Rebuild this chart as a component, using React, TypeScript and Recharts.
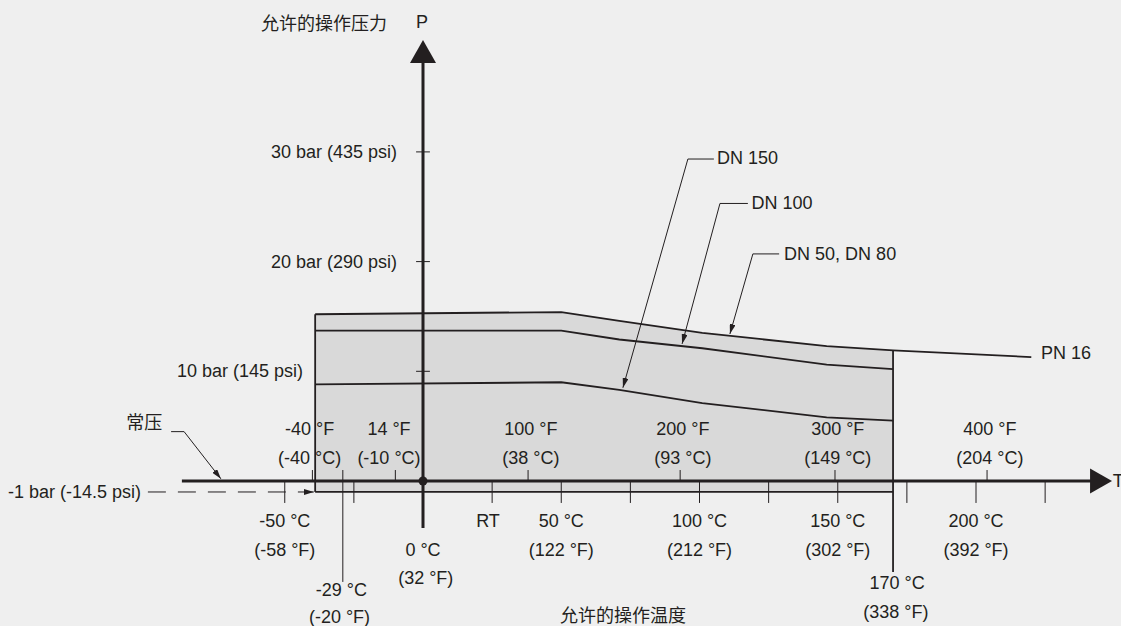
import React from 'react'
import { ComposedChart, Area, Line, XAxis, YAxis, ReferenceLine, ReferenceDot } from 'recharts'

const INK = '#231f20'
const BG = '#efefef'
const FILL = '#d9d9d9'
const LATIN = '"Liberation Sans", Arial, sans-serif'
const CJK = '"Noto Sans CJK SC", sans-serif'

// curves: temperature (°C) -> allowed pressure (bar)
const TEMPS_TOP = [-39, 50, 71, 101, 146, 170, 220]
const P_TOP = [15.2, 15.4, 14.6, 13.5, 12.3, 11.9, 11.3] // DN 50, DN 80 / PN 16
const TEMPS_DN = [-39, 50, 71, 101, 146, 170]
const P_DN100 = [13.7, 13.7, 12.9, 12.1, 10.6, 10.2]
const P_DN150 = [8.8, 9.0, 8.3, 7.1, 5.8, 5.5]
const P_VACUUM = -1
const T_MIN = -39
const T_MAX = 170

// axis ticks
const BAR_TICKS = [10, 20, 30]
const BAR_LABELS = ['10 bar (145 psi)', '20 bar (290 psi)', '30 bar (435 psi)']
const BAR_LABEL_AT = [-43.4, -9.4, -9.4]
const C_TICKS = [-50, -25, 0, 25, 50, 75, 100, 125, 150, 175, 200, 225]
const C_LABEL_AT = [-50, 50, 100, 150, 200]
const C_LABELS = ['-50 °C', '50 °C', '100 °C', '150 °C', '200 °C']
const C_LABELS_F = ['(-58 °F)', '(122 °F)', '(212 °F)', '(302 °F)', '(392 °F)']
const F_TICKS = [-40, -10, 38, 93, 149, 204]
const F_LABEL_AT = [-41, -12.3, 39, 94, 150, 205]
const F_LABELS = ['-40 °F', '14 °F', '100 °F', '200 °F', '300 °F', '400 °F']
const F_LABELS_C = ['(-40 °C)', '(-10 °C)', '(38 °C)', '(93 °C)', '(149 °C)', '(204 °C)']

const X_DOMAIN = [-152, 250]
const Y_DOMAIN = [-13, 43]

const topData = TEMPS_TOP.map((t, i) => ({ t, p: P_TOP[i] }))
const regionData = TEMPS_TOP.filter(t => t <= T_MAX).map((t, i) => ({ t, band: [P_VACUUM, P_TOP[i]] }))
const dn100Data = TEMPS_DN.map((t, i) => ({ t, p: P_DN100[i] }))
const dn150Data = TEMPS_DN.map((t, i) => ({ t, p: P_DN150[i] }))

type Pt = { x: number; y: number }

function seg(key: string, a: Pt, b: Pt, width = 1, extra: any = {}) {
  return (
    <ReferenceLine key={key} segment={[a, b]} stroke={INK} strokeWidth={width} ifOverflow="visible" {...extra} />
  )
}

function txt(key: string, x: number, y: number, value: string, anchor = 'middle', font = LATIN) {
  return (
    <ReferenceDot
      key={key}
      x={x}
      y={y}
      r={1}
      ifOverflow="visible"
      shape={(p: any) => (
        <text x={p.cx} y={p.cy} textAnchor={anchor} dominantBaseline="central"
          fontSize={18} fontFamily={font} fill={INK}>{value}</text>
      )}
    />
  )
}

export default function App() {
  return (
    <div style={{ position: 'absolute', left: 0, top: 0, width: 1121, height: 626, background: BG }}>
      <ComposedChart width={1121} height={626} margin={{ top: 9.29, right: 6.75, bottom: 2.39, left: 2.72 }}>
        <defs>
          <marker id="ah" markerWidth="10" markerHeight="6" refX="10" refY="3" orient="auto" markerUnits="userSpaceOnUse">
            <path d="M0,0 L10,3 L0,6 z" fill={INK} />
          </marker>
        </defs>
        <XAxis type="number" dataKey="t" domain={X_DOMAIN} hide allowDataOverflow />
        <YAxis type="number" domain={Y_DOMAIN} hide allowDataOverflow />

        <Area data={regionData} dataKey="band" type="linear" fill={FILL} fillOpacity={1} stroke="none" isAnimationActive={false} />

        {/* region outline */}
        {seg('rl', { x: T_MIN, y: P_VACUUM }, { x: T_MIN, y: P_TOP[0] }, 1.8)}
        {seg('rb', { x: T_MIN, y: P_VACUUM }, { x: T_MAX, y: P_VACUUM }, 1.8)}
        {seg('rr', { x: T_MAX, y: 11.9 }, { x: T_MAX, y: -8.3 }, 1.8)}

        <Line data={topData} dataKey="p" type="linear" stroke={INK} strokeWidth={1.8} dot={false} isAnimationActive={false} />
        <Line data={dn100Data} dataKey="p" type="linear" stroke={INK} strokeWidth={1.8} dot={false} isAnimationActive={false} />
        <Line data={dn150Data} dataKey="p" type="linear" stroke={INK} strokeWidth={1.8} dot={false} isAnimationActive={false} />

        {/* ticks */}
        {C_TICKS.map(t => seg('ct' + t, { x: t, y: 0 }, { x: t, y: -2 }))}
        {F_TICKS.map(t => seg('ft' + t, { x: t, y: 1 }, { x: t, y: 0 }))}
        {BAR_TICKS.map(b => seg('bt' + b, { x: -2.5, y: b }, { x: 2.5, y: b }))}
        {seg('m29', { x: -29, y: 1 }, { x: -29, y: -9.2 })}

        {/* axes */}
        {seg('xa', { x: -87.2, y: 0 }, { x: 242, y: 0 }, 3)}
        {seg('ya', { x: 0, y: -4.28 }, { x: 0, y: 38.5 }, 3)}
        <ReferenceDot x={249.2} y={0} r={1} ifOverflow="visible"
          shape={(p: any) => <polygon points={`${p.cx},${p.cy} ${p.cx - 22},${p.cy - 12.5} ${p.cx - 22},${p.cy + 12.5}`} fill={INK} />} />
        <ReferenceDot x={0} y={40.2} r={1} ifOverflow="visible"
          shape={(p: any) => <polygon points={`${p.cx},${p.cy} ${p.cx - 13},${p.cy + 23} ${p.cx + 13},${p.cy + 23}`} fill={INK} />} />
        <ReferenceDot x={0} y={0} r={4.5} fill={INK} stroke="none" ifOverflow="visible" />

        {/* vacuum line */}
        {seg('vac', { x: -99.5, y: P_VACUUM }, { x: T_MIN - 0.5, y: P_VACUUM }, 1, { strokeDasharray: '18 12', markerEnd: 'url(#ah)' })}

        {/* leaders */}
        {seg('l150a', { x: 105.2, y: 29.35 }, { x: 95.8, y: 29.35 })}
        {seg('l150b', { x: 95.8, y: 29.35 }, { x: 72.3, y: 8.5 }, 1, { markerEnd: 'url(#ah)' })}
        {seg('l100a', { x: 117.5, y: 25.3 }, { x: 107.4, y: 25.3 })}
        {seg('l100b', { x: 107.4, y: 25.3 }, { x: 93.7, y: 12.5 }, 1, { markerEnd: 'url(#ah)' })}
        {seg('l50a', { x: 128.8, y: 20.7 }, { x: 119.3, y: 20.7 })}
        {seg('l50b', { x: 119.3, y: 20.7 }, { x: 111.0, y: 13.4 }, 1, { markerEnd: 'url(#ah)' })}
        {seg('lna', { x: -91.1, y: 4.5 }, { x: -86.4, y: 4.5 })}
        {seg('lnb', { x: -86.4, y: 4.5 }, { x: -73.1, y: 0.2 }, 1, { markerEnd: 'url(#ah)' })}

        {/* labels */}
        {BAR_TICKS.map((b, i) => txt('bl' + b, BAR_LABEL_AT[i], b, BAR_LABELS[i], 'end'))}
        {txt('vacl', -150.1, P_VACUUM, '-1 bar (-14.5 psi)', 'start')}
        {F_LABEL_AT.map((t, i) => txt('fl' + i, t, 4.74, F_LABELS[i]))}
        {F_LABEL_AT.map((t, i) => txt('flc' + i, t, 2.1, F_LABELS_C[i]))}
        {C_LABEL_AT.map((t, i) => txt('cl' + i, t, -3.65, C_LABELS[i]))}
        {C_LABEL_AT.map((t, i) => txt('clf' + i, t, -6.29, C_LABELS_F[i]))}
        {txt('rt', 23.5, -3.65, 'RT')}
        {txt('c0', 0, -6.29, '0 °C')}
        {txt('c0f', 1, -8.84, '(32 °F)')}
        {txt('c29', -29.5, -9.94, '-29 °C')}
        {txt('c29f', -30.2, -12.4, '(-20 °F)')}
        {txt('c170', 171.5, -9.3, '170 °C')}
        {txt('c170f', 171, -11.94, '(338 °F)')}
        {txt('dn150', 106.3, 29.4, 'DN 150', 'start')}
        {txt('dn100', 118.8, 25.3, 'DN 100', 'start')}
        {txt('dn50', 130.6, 20.7, 'DN 50, DN 80', 'start')}
        {txt('pn16', 223.5, 11.67, 'PN 16', 'start')}
        {txt('tl', 249.5, 0, 'T', 'start')}
        {txt('pl', -0.4, 41.84, 'P')}
        {txt('ytitle', -35.8, 41.84, '允许的操作压力', 'middle', CJK)}
        {txt('xtitle', 72.3, -12.12, '允许的操作温度', 'middle', CJK)}
        {txt('atm', -100.8, 5.45, '常压', 'middle', CJK)}
      </ComposedChart>
    </div>
  )
}
